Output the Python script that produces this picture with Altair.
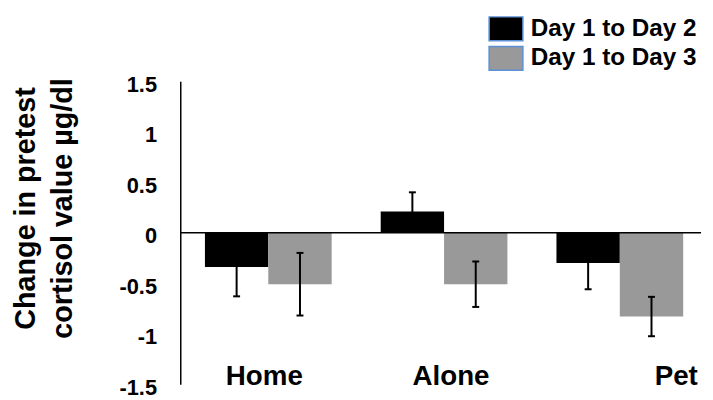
import altair as alt
import pandas as pd

categories = ["Home", "Alone", "Pet"]
series = ["Day 1 to Day 2", "Day 1 to Day 3"]
day1_to_day2 = [-0.34, 0.21, -0.30]
day1_to_day3 = [-0.51, -0.51, -0.83]
err_day2 = [0.29, 0.19, 0.26]
err_day3 = [0.31, 0.225, 0.195]
y_ticks = [-1.5, -1, -0.5, 0, 0.5, 1, 1.5]
y_title = ["Change in pretest", "cortisol value µg/dl"]
colors = ["#000000", "#999999"]

rows = []
for i, c in enumerate(categories):
    rows.append({"group": c, "series": series[0], "value": day1_to_day2[i], "err": err_day2[i]})
    rows.append({"group": c, "series": series[1], "value": day1_to_day3[i], "err": err_day3[i]})
df = pd.DataFrame(rows)

FONT = "Liberation Sans"

x_scale = alt.Scale(paddingInner=0.279, paddingOuter=0.121, align=0.58)
x_axis = alt.Axis(
    title=None, domain=False, ticks=False, grid=False,
    labelFont=FONT, labelFontSize=28, labelFontWeight="bold", labelColor="black",
    labelAngle=0, labelBaseline="alphabetic", labelPadding=0,
    labelOffset=alt.ExprRef(expr="datum.value == 'Pet' ? 57 : datum.value == 'Alone' ? 7 : -4"),
)
x_enc = alt.X("group:N", sort=categories, scale=x_scale, axis=x_axis)
xoff_enc = alt.XOffset("series:N", sort=series, scale=alt.Scale(paddingInner=0, paddingOuter=0))

y_axis = alt.Axis(
    values=y_ticks, title=y_title, grid=False, ticks=False,
    domainColor="black", domainWidth=1.5,
    labelFont=FONT, labelFontSize=22, labelFontWeight="bold", labelColor="black",
    labelPadding=24, labelOffset=3, labelExpr="datum.value + ''",
    titleFont=FONT, titleFontSize=29, titleFontWeight="bold", titleColor="black",
    titleAngle=-90, titleAlign="center", titleBaseline="alphabetic",
    titleX=-147, titleY=128, titleLineHeight=37,
)
y_scale = alt.Scale(domain=[-1.5, 1.5], nice=False)

legend = alt.Legend(
    title=None, orient="none", legendX=316, legendY=-66,
    symbolType="M-1.42,-1H1.42V1H-1.42Z", symbolSize=576,
    symbolStrokeColor="#5b8fd6", symbolStrokeWidth=1.5, symbolOpacity=1,
    labelFont=FONT, labelFontSize=24.5, labelFontWeight="bold", labelColor="black",
    labelOffset=12, labelLimit=0, rowPadding=0, padding=0,
)

bars = alt.Chart(df).mark_bar().encode(
    x=x_enc,
    xOffset=xoff_enc,
    y=alt.Y("value:Q", scale=y_scale, axis=y_axis),
    color=alt.Color("series:N", scale=alt.Scale(domain=series, range=colors), legend=legend),
)

zero = alt.Chart(pd.DataFrame({"z": [0]})).mark_rule(color="black", strokeWidth=1.5).encode(
    y=alt.Y("z:Q", scale=y_scale)
)

err_base = alt.Chart(df).transform_calculate(
    lo="datum.value - datum.err", hi="datum.value + datum.err"
)
rules = err_base.mark_rule(color="black", strokeWidth=2).encode(
    x=x_enc, xOffset=xoff_enc,
    y=alt.Y("lo:Q", scale=y_scale), y2="hi:Q",
)
caps = err_base.transform_fold(["lo", "hi"], as_=["end", "endval"]).mark_tick(
    color="black", thickness=2, size=7, opacity=1
).encode(
    x=x_enc, xOffset=xoff_enc,
    y=alt.Y("endval:Q", scale=y_scale),
)

chart = alt.layer(bars, zero, rules, caps).properties(
    width=526, height=306,
    padding={"left": 174, "top": 72, "right": 4, "bottom": 14},
    autosize=alt.AutoSizeParams(type="none"),
    background="white",
).configure_view(stroke=None)

chart.save("out.html", embed_options={"renderer": "svg", "actions": False})
